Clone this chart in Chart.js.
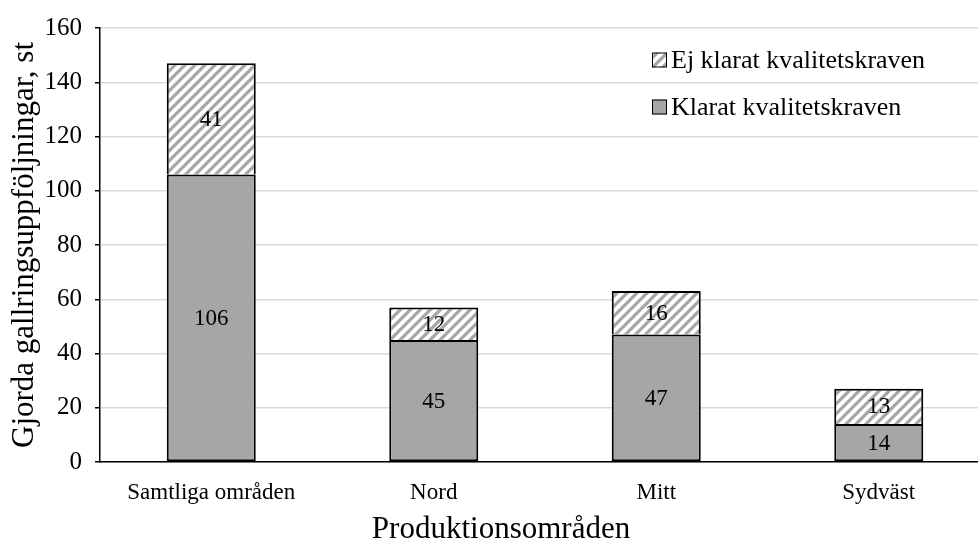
<!DOCTYPE html>
<html>
<head>
<meta charset="utf-8">
<script src="https://cdn.jsdelivr.net/npm/chart.js@4/dist/chart.umd.min.js"></script>
<style>
  html, body { margin: 0; padding: 0; background: #fff; overflow: hidden; }
  canvas { display: block; }
</style>
</head>
<body>
<canvas id="c" width="992" height="543"></canvas>
<script>
// Production areas and counts of completed thinning follow-ups
const categories = ['Samtliga områden', 'Nord', 'Mitt', 'Sydväst'];
const klarat = [106, 45, 47, 14];      // met the quality requirements
const ejKlarat = [41, 12, 16, 13];     // did not meet the quality requirements
const yTicks = [0, 20, 40, 60, 80, 100, 120, 140, 160];
const xTitle = 'Produktionsområden';
const yTitle = 'Gjorda gallringsuppföljningar, st';

const SERIF = '"Liberation Serif", "Times New Roman", serif';

// Diagonal hatch fill for the "Ej klarat" segments
function makeHatch() {
  const s = 10;
  const c = document.createElement('canvas');
  c.width = s; c.height = s;
  const g = c.getContext('2d');
  g.fillStyle = '#ffffff';
  g.fillRect(0, 0, s, s);
  g.strokeStyle = '#a6a6a6';
  g.lineWidth = 3.2;
  g.beginPath();
  g.moveTo(-s, s * 2); g.lineTo(s * 2, -s);
  g.moveTo(-s, s); g.lineTo(s, -s);
  g.moveTo(0, s * 2); g.lineTo(s * 2, 0);
  g.stroke();
  return g.createPattern(c, 'repeat');
}
const ctx = document.getElementById('c').getContext('2d');
const hatch = makeHatch();

// Values written in the middle of each segment
const segmentLabels = {
  id: 'segmentLabels',
  afterDatasetsDraw(chart) {
    const g = chart.ctx;
    g.save();
    g.font = '23px ' + SERIF;
    g.fillStyle = '#000';
    g.textAlign = 'center';
    g.textBaseline = 'middle';
    chart.data.datasets.forEach((ds, i) => {
      chart.getDatasetMeta(i).data.forEach((bar, j) => {
        const p = bar.getProps(['x', 'y', 'base'], true);
        g.fillText(String(ds.data[j]), p.x, (p.y + p.base) / 2 + 1);
      });
    });
    g.restore();
  }
};

// Legend stacked vertically in the upper right of the plot
const innerLegend = {
  id: 'innerLegend',
  afterDraw(chart) {
    const g = chart.ctx;
    const items = chart.data.datasets.map((ds) => ds).reverse();
    const x0 = 652, y0 = 60, gap = 47, box = 15;
    g.save();
    g.font = '26px ' + SERIF;
    g.textBaseline = 'middle';
    g.textAlign = 'left';
    items.forEach((ds, k) => {
      const y = y0 + k * gap;
      g.fillStyle = ds.backgroundColor;
      g.fillRect(x0, y - box / 2, box, box);
      g.lineWidth = 1;
      g.strokeStyle = '#000';
      g.strokeRect(x0 + 0.5, y - box / 2 + 0.5, box - 1, box - 1);
      g.fillStyle = '#000';
      g.fillText(ds.label, x0 + box + 4, y + 1);
    });
    g.restore();
  }
};

// Horizontal axis title, centred under the visible part of the chart
const bottomTitle = {
  id: 'bottomTitle',
  afterDraw(chart) {
    const g = chart.ctx;
    g.save();
    g.font = '31px ' + SERIF;
    g.fillStyle = '#000';
    g.textAlign = 'center';
    g.textBaseline = 'alphabetic';
    g.fillText(xTitle, 501, 538);
    g.restore();
  }
};

new Chart(ctx, {
  type: 'bar',
  data: {
    labels: categories,
    datasets: [
      {
        label: 'Klarat kvalitetskraven',
        data: klarat,
        backgroundColor: '#a6a6a6',
        borderColor: '#000',
        borderWidth: 2,
        borderSkipped: false
      },
      {
        label: 'Ej klarat kvalitetskraven',
        data: ejKlarat,
        backgroundColor: hatch,
        borderColor: '#000',
        borderWidth: 2,
        borderSkipped: 'start'
      }
    ]
  },
  options: {
    responsive: false,
    animation: false,
    layout: { padding: { top: 28, right: 2, left: 0, bottom: 0 } },
    plugins: {
      legend: { display: false },
      tooltip: { enabled: false }
    },
    datasets: { bar: { barPercentage: 1, categoryPercentage: 0.4 } },
    scales: {
      x: {
        stacked: true,
        afterFit(s) { s.height = 81; },
        grid: { display: true, drawOnChartArea: false, drawTicks: false },
        border: { display: true, color: '#000', width: 1.5 },
        ticks: { color: '#000', font: { family: SERIF, size: 23 }, padding: 17 }
      },
      y: {
        stacked: true,
        min: 0, max: 160,
        afterFit(s) { s.width = 100; },
        afterBuildTicks(s) { s.ticks = yTicks.map((v) => ({ value: v })); },
        grid: { color: '#d9d9d9', lineWidth: 1.5, tickLength: 5, tickColor: '#000' },
        border: { display: true, color: '#000', width: 1.5 },
        ticks: { color: '#000', font: { family: SERIF, size: 25 }, padding: 13 },
        title: {
          display: true, text: yTitle, color: '#000',
          font: { family: SERIF, size: 31, lineHeight: 1 }, padding: { top: 9, bottom: 0 }
        }
      }
    }
  },
  plugins: [segmentLabels, innerLegend, bottomTitle]
});
</script>
</body>
</html>
